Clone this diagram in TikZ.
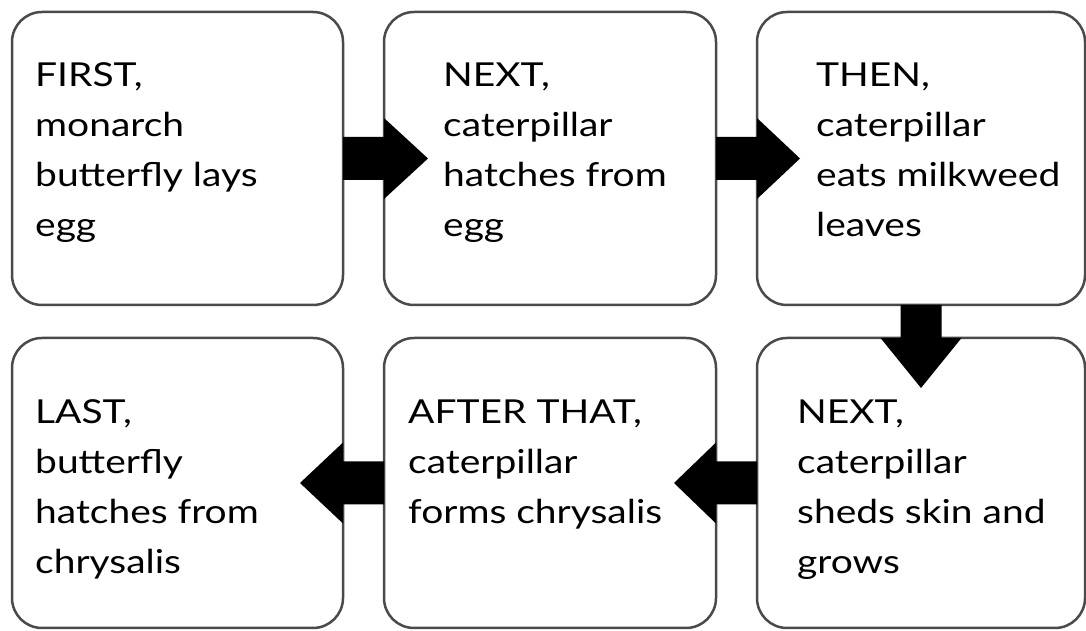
\documentclass[tikz,border=0pt]{standalone}
\usepackage{fontspec}
\setmainfont{Lato}[FakeStretch=1.18]
\usetikzlibrary{calc}
\tikzset{
  box/.style={draw=boxgray, line width=2.5pt, rounded corners=30pt, fill=white,
    inner sep=0pt, outer sep=0pt, minimum width=#1, minimum height=293pt},
  boxlow/.style={box=#1, minimum height=290pt},
  txt/.style={anchor=base west, inner sep=0pt, align=left, text=black,
    font=\fontsize{33}{50}\selectfont},
  arrowfill/.style={fill=black}
}
\definecolor{boxgray}{HTML}{4A4A4A}
\newcommand{\blockarrowH}[3]{%
  \fill[arrowfill] ($(#1)+(0,21.5)$) -- ($(#2)+(0,21.5)$) -- ($(#2)+(0,40.5)$)
    -- ($(#2)+(#3,0)$) -- ($(#2)+(0,-40.5)$) -- ($(#2)+(0,-21.5)$)
    -- ($(#1)+(0,-21.5)$) -- cycle;}
\begin{document}
\begin{tikzpicture}[x=1pt,y=1pt]
\useasboundingbox (0,0) rectangle (1086,631);
% boxes
\node[box=331pt] (b1) at (177.5,472.5) {};
\node[box=332pt] (b2) at (550,472.5) {};
\node[box=328pt] (b3) at (921,472.5) {};
\node[boxlow=331pt] (b4) at (177.5,148) {};
\node[boxlow=332pt] (b5) at (550,148) {};
\node[boxlow=328pt] (b6) at (921,148) {};
% texts (base anchor = baseline of the last line)
\node[txt] (t1) at (35,394) {FIRST,\\monarch\\butterfly lays\\egg};
\node[txt] (t2) at (443,394) {NEXT,\\caterpillar\\hatches from\\egg};
\node[txt] (t3) at (816,394) {THEN,\\caterpillar\\eats milkweed\\leaves};
\node[txt] (t4) at (35,57) {LAST,\\butterfly\\hatches from\\chrysalis};
\node[txt] (t5) at (408,107) {AFTER THAT,\\caterpillar\\forms chrysalis};
\node[txt] (t6) at (797,57) {NEXT,\\caterpillar\\sheds skin and\\grows};
% arrows
\blockarrowH{b1.east}{b2.west}{44}
\blockarrowH{b2.east}{b3.west}{43}
\blockarrowH{b6.west}{b5.east}{-42}
\blockarrowH{b5.west}{b4.east}{-43}
\fill[arrowfill] ($(b3.south)+(-20.5,0)$) -- ($(b6.north)+(-20.5,0)$) -- ($(b6.north)+(-40.5,0)$)
  -- ($(b6.north)+(0,-50)$) -- ($(b6.north)+(40.5,0)$) -- ($(b6.north)+(20.5,0)$)
  -- ($(b3.south)+(20.5,0)$) -- cycle;
\end{tikzpicture}
\end{document}
